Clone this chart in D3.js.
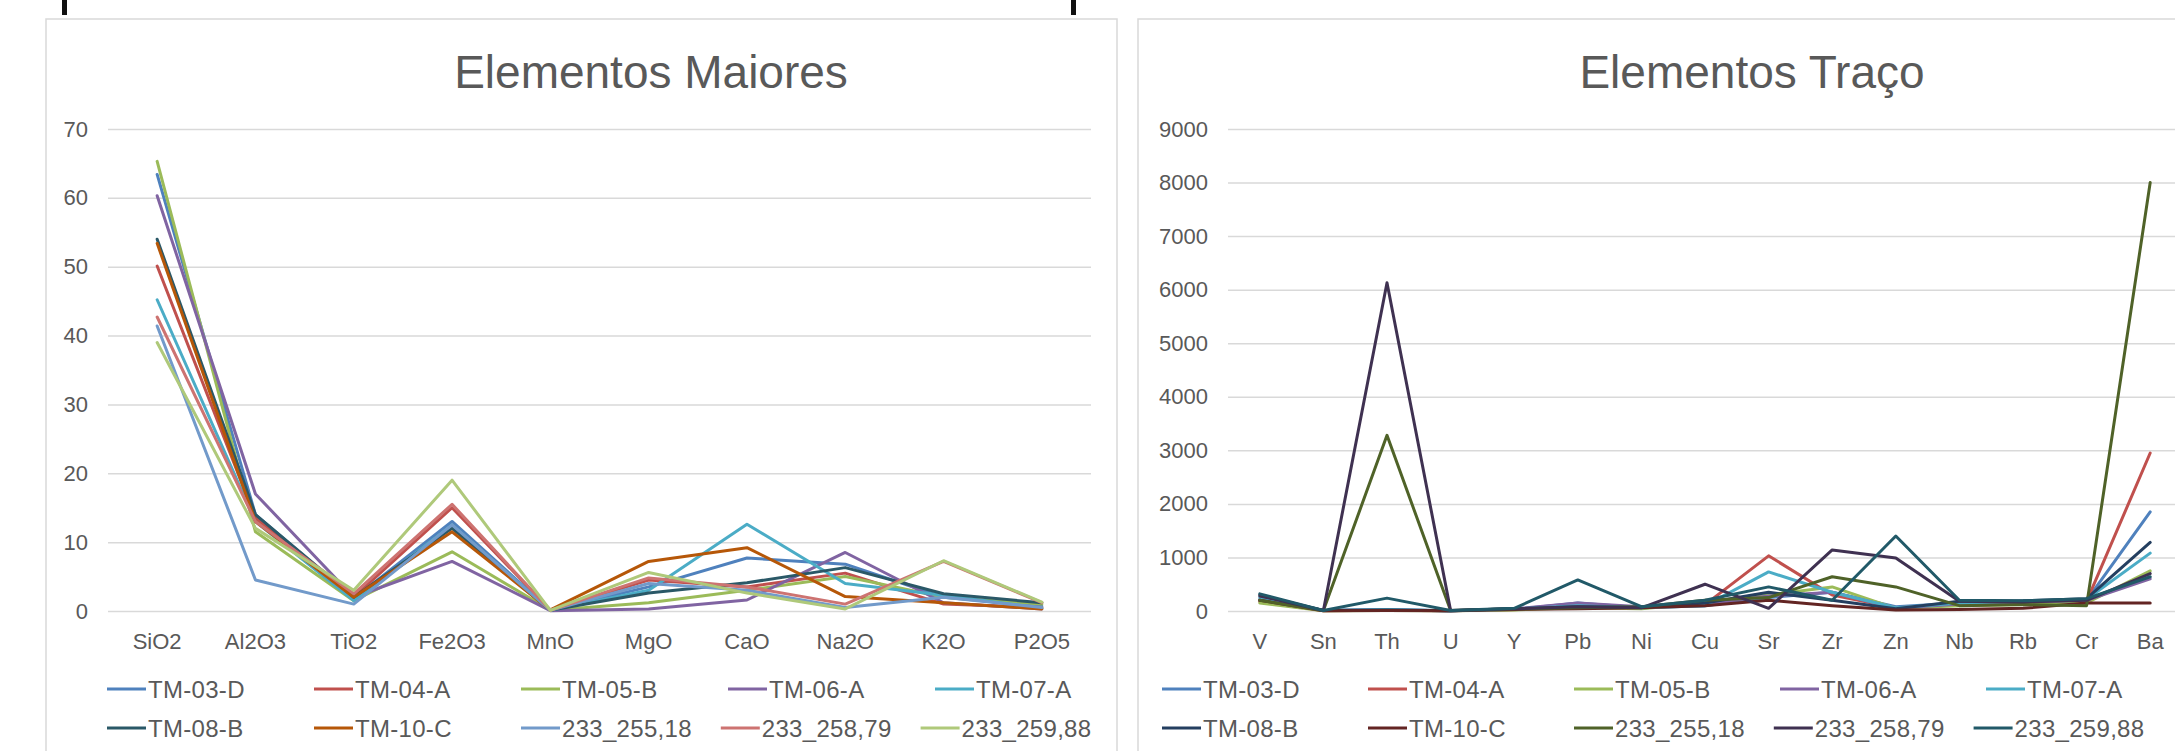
<!DOCTYPE html>
<html>
<head>
<meta charset="utf-8">
<script src="https://cdn.jsdelivr.net/npm/d3@7"></script>
<style>
  html, body { margin: 0; padding: 0; background: #ffffff; }
  svg { display: block; font-family: "Liberation Sans", Arial, sans-serif; }
</style>
</head>
<body>
<svg id="chart" width="2175" height="751"></svg>
<script>
// ---- Sample names (shared by both charts) ----
const sampleNames = ["TM-03-D", "TM-04-A", "TM-05-B", "TM-06-A", "TM-07-A",
                     "TM-08-B", "TM-10-C", "233_255,18", "233_258,79", "233_259,88"];

// ---- Major elements (wt %) ----
const majorCategories = ["SiO2", "Al2O3", "TiO2", "Fe2O3", "MnO", "MgO", "CaO", "Na2O", "K2O", "P2O5"];
const majorTicks = [0, 10, 20, 30, 40, 50, 60, 70];
const majorTM03D  = [63.4, 14.0, 1.8, 13.0, 0.10, 3.5, 7.7, 6.8, 2.0, 0.7];
const majorTM04A  = [50.1, 13.5, 2.0, 15.0, 0.15, 4.5, 3.5, 5.5, 1.0, 0.5];
const majorTM05B  = [65.3, 11.5, 1.5, 8.6, 0.10, 1.2, 3.0, 5.0, 2.0, 1.0];
const majorTM06A  = [60.3, 17.0, 2.0, 7.2, 0.05, 0.3, 1.6, 8.5, 1.2, 0.3];
const majorTM07A  = [45.2, 13.0, 1.5, 12.5, 0.10, 3.0, 12.6, 4.0, 2.3, 0.4];
const majorTM08B  = [54.0, 14.0, 2.0, 12.0, 0.10, 2.6, 4.1, 6.3, 2.5, 1.2];
const majorTM10C  = [53.4, 13.0, 2.0, 11.5, 0.15, 7.2, 9.2, 2.1, 1.2, 0.3];
const major25518  = [41.4, 4.5, 1.0, 12.5, 0.10, 4.0, 3.0, 0.5, 2.0, 0.5];
const major25879  = [42.7, 13.0, 2.5, 15.5, 0.10, 4.8, 3.5, 1.0, 7.2, 1.2];
const major25988  = [39.0, 12.0, 3.0, 19.0, 0.10, 5.6, 2.6, 0.3, 7.3, 1.3];
const majorColors = ["#4f81bd", "#c0504d", "#9bbb59", "#8064a2", "#4bacc6",
                     "#2a5867", "#b65708", "#729aca", "#cd7371", "#afc97a"];

// ---- Trace elements (ppm) ----
const traceCategories = ["V", "Sn", "Th", "U", "Y", "Pb", "Ni", "Cu", "Sr", "Zr", "Zn", "Nb", "Rb", "Cr", "Ba"];
const traceTicks = [0, 1000, 2000, 3000, 4000, 5000, 6000, 7000, 8000, 9000];
const traceTM03D  = [200, 10, 20, 5, 30, 150, 60, 100, 250, 350, 80, 150, 150, 200, 1850];
const traceTM04A  = [180, 5, 15, 5, 25, 80, 70, 120, 1030, 300, 60, 120, 150, 180, 2950];
const traceTM05B  = [150, 5, 10, 3, 20, 60, 40, 150, 300, 450, 50, 100, 120, 150, 750];
const traceTM06A  = [220, 10, 25, 5, 40, 150, 80, 130, 280, 350, 50, 130, 170, 200, 600];
const traceTM07A  = [250, 10, 30, 5, 35, 100, 60, 100, 730, 350, 60, 150, 180, 220, 1080];
const traceTM08B  = [300, 10, 20, 5, 40, 80, 70, 150, 350, 200, 40, 180, 190, 230, 1280];
const traceTM10C  = [200, 5, 10, 3, 30, 40, 60, 100, 200, 100, 20, 30, 50, 150, 150];
const trace25518  = [200, 10, 3280, 10, 40, 60, 80, 200, 250, 640, 450, 100, 120, 100, 8000];
const trace25879  = [280, 10, 6130, 10, 40, 80, 60, 500, 50, 1140, 990, 180, 170, 200, 700];
const trace25988  = [320, 10, 240, 10, 50, 580, 80, 200, 450, 200, 1400, 200, 190, 230, 640];
const traceColors = ["#4f81bd", "#c0504d", "#9bbb59", "#8064a2", "#4bacc6",
                     "#243f60", "#632523", "#4f6228", "#3f3151", "#215968"];

const majorSeries = [majorTM03D, majorTM04A, majorTM05B, majorTM06A, majorTM07A,
                     majorTM08B, majorTM10C, major25518, major25879, major25988];
const traceSeries = [traceTM03D, traceTM04A, traceTM05B, traceTM06A, traceTM07A,
                     traceTM08B, traceTM10C, trace25518, trace25879, trace25988];

const svg = d3.select("#chart");
const textColor = "#595959";
const gridColor = "#d9d9d9";

// Fragments of the text line above the charts
svg.append("rect").attr("x", 62).attr("y", 0).attr("width", 5).attr("height", 15).attr("fill", "#111");
svg.append("rect").attr("x", 1071).attr("y", 0).attr("width", 5).attr("height", 15).attr("fill", "#111");

function drawChart(cfg) {
  const g = svg.append("g");

  // chart area frame
  g.append("rect")
    .attr("x", cfg.frame[0]).attr("y", cfg.frame[1])
    .attr("width", cfg.frame[2]).attr("height", cfg.frame[3])
    .attr("fill", "#fff").attr("stroke", gridColor).attr("stroke-width", 1.5);

  const x = d3.scaleBand().domain(cfg.categories).range([cfg.plot.left, cfg.plot.right]);
  const y = d3.scaleLinear().domain([0, cfg.ticks[cfg.ticks.length - 1]]).range([cfg.plot.bottom, cfg.plot.top]);

  // horizontal gridlines + labels
  const yAxis = d3.axisLeft(y).tickValues(cfg.ticks).tickFormat(d3.format("d"))
    .tickSize(-(cfg.plot.right - cfg.plot.left)).tickPadding(20);
  const ya = g.append("g").attr("transform", `translate(${cfg.plot.left},0)`).call(yAxis);
  ya.select(".domain").remove();
  ya.selectAll(".tick line").attr("stroke", gridColor).attr("stroke-width", 1.5);
  ya.selectAll(".tick text").attr("fill", textColor).attr("font-size", 22)
    .attr("font-family", "Liberation Sans, Arial, sans-serif");

  // category labels
  const xAxis = d3.axisBottom(x).tickSize(0).tickPadding(22);
  const xa = g.append("g").attr("transform", `translate(0,${cfg.plot.bottom})`).call(xAxis);
  xa.select(".domain").remove();
  xa.selectAll(".tick text").attr("fill", textColor).attr("font-size", 22)
    .attr("font-family", "Liberation Sans, Arial, sans-serif");

  // series lines
  const line = d3.line()
    .x((d, i) => x(cfg.categories[i]) + x.bandwidth() / 2)
    .y(d => y(d));
  g.append("g").selectAll("path").data(cfg.series).join("path")
    .attr("d", d => line(d))
    .attr("fill", "none")
    .attr("stroke", (d, i) => cfg.colors[i])
    .attr("stroke-width", 3)
    .attr("stroke-linejoin", "round")
    .attr("stroke-linecap", "round");

  // title
  g.append("text")
    .attr("x", cfg.titleX).attr("y", 88)
    .attr("text-anchor", "middle")
    .attr("font-size", 46)
    .attr("fill", textColor)
    .text(cfg.title);

  // legend: two rows of five on a fixed stride; an entry whose text
  // overruns its slot packs the next entry right after it
  const lg = g.append("g").attr("font-size", 24).attr("fill", textColor)
    .attr("letter-spacing", 0.3);
  const lineLen = 39, perRow = 5, gap = 29;
  const rowY = [689, 728];
  let prevEnd = -Infinity;
  sampleNames.forEach((name, i) => {
    const row = Math.floor(i / perRow), col = i % perRow;
    if (col === 0) prevEnd = -Infinity;
    const slot = cfg.legendX + col * cfg.legendStride;
    const lx = prevEnd + gap > slot - 30 ? prevEnd + gap : slot;
    const item = lg.append("g");
    item.append("line")
      .attr("x1", lx).attr("x2", lx + lineLen)
      .attr("y1", rowY[row]).attr("y2", rowY[row])
      .attr("stroke", cfg.colors[i]).attr("stroke-width", 3);
    const t = item.append("text")
      .attr("x", lx + lineLen + 2).attr("y", rowY[row])
      .attr("dy", "0.36em")
      .text(name);
    prevEnd = lx + lineLen + 2 + t.node().getComputedTextLength();
  });
}

drawChart({
  frame: [46, 19, 1071, 760],
  plot: { left: 108, right: 1091, top: 129, bottom: 611 },
  categories: majorCategories,
  ticks: majorTicks,
  series: majorSeries,
  colors: majorColors,
  title: "Elementos Maiores",
  titleX: 651,
  legendX: 107,
  legendStride: 207
});

drawChart({
  frame: [1138, 19, 1100, 760],
  plot: { left: 1228, right: 2182, top: 129, bottom: 611 },
  categories: traceCategories,
  ticks: traceTicks,
  series: traceSeries,
  colors: traceColors,
  title: "Elementos Traço",
  titleX: 1752,
  legendX: 1162,
  legendStride: 206
});
</script>
</body>
</html>
